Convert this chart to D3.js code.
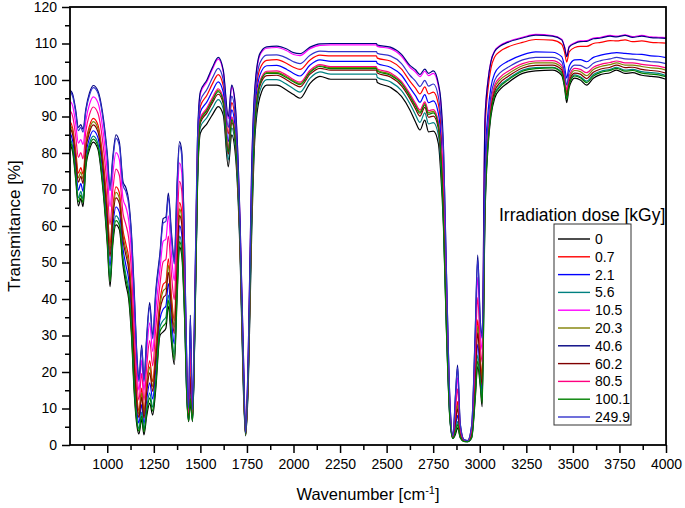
<!DOCTYPE html>
<html>
<head>
<meta charset="utf-8">
<script src="https://cdn.jsdelivr.net/npm/d3@7"></script>
<style>
html,body{margin:0;padding:0;background:#fff;}
svg{display:block;font-family:"Liberation Sans",Arial,sans-serif;}
</style>
</head>
<body>
<svg id="chart" width="685" height="508"></svg>
<script>
// ---------- DATA ----------
const wavenumbers = [800,815,830,845,858,870,885,905,925,950,975,1000,1015,1030,1047,1065,1085,1100,1115,1130,1145,1160,1170,1185,1197,1212,1228,1244,1260,1283,1300,1315,1328,1345,1360,1375,1388,1400,1415,1428,1437,1446,1458,1470,1485,
1500,1535,1565,1596,1623,1650,1668,1686,1713,1731,1743,1757,1775,1793,1820,1856,1910,1964,2000,2035,2089,2142,2200,2445,2450,2520,2580,2625,2655,2679,2705,2725,2751,2778,2790,
2805,2820,2840,2856,2870,2881,2895,2915,2935,2957,2975,2989,3003,3013,
3028,3045,3060,3080,3110,3150,3230,3300,3390,3440,3455,3467,3480,3510,3540,3574,3610,3650,3700,3735,3780,3820,3870,3920,3960,4000];

const dose0 = [82.5,80,73,65.5,67.5,65.3,76,81,83,81,71,55,43.4,55,60.3,59,49,44,40,30,14,5,3,7,2.8,8,11.5,8.2,15,30,31,32,38,28,22,40,54.3,52,35,12,6.4,11.5,6.4,30,72,
85.5,88,90.5,92.7,90.4,76.2,85,80.6,52.6,15,2.5,16,57,84.5,95.4,98.6,98.6,97.2,96,95,99.1,101,100.2,100.2,99.3,98,95.5,91.8,88.5,86.3,89,85.8,86,82.6,75,
60,33,6.8,1.8,3,4.7,2,1,0.9,2,12,21.5,16,10.5,
62,82,90,95,97.5,99.2,101.8,102.5,102.7,101.3,98,93.8,98,100.5,100,98.6,100.5,101.5,102,102.7,101.8,102,101.3,101,100.8,100.2];

const dose0_7 = [88.7,86.7,81.0,74.5,76.0,74.2,82.7,87.5,89.5,87.7,79.4,65.5,54.9,65.1,70.7,69.1,58.7,55.1,51.3,41.8,25.8,13.0,9.3,15.6,9.2,17.2,23.1,17.4,26.3,39.5,44.0,44.8,51.0,40.6,34.1,53.4,66.4,63.9,43.4,15.4,8.0,21.6,7.8,34.2,77.5,
92.8,95.8,99.0,101.5,98.4,85.2,93.8,89.3,58.5,21.5,3.2,21.9,68.9,93.4,103.1,105.4,105.6,104.5,103.5,102.9,105.5,106.8,106.6,106.6,106.0,105.2,103.0,99.7,97.8,96.2,98.1,96.2,96.7,93.3,88.0,
69.2,40.1,9.0,2.1,7.6,11.9,3.7,1.2,1.0,3.5,19.6,34.3,23.6,18.7,
85.8,97.8,103.2,106.3,107.9,109.0,110.3,111.1,110.9,109.8,107.7,104.9,107.7,108.9,109.2,109.2,110.0,110.3,110.8,110.7,111.0,110.5,110.7,110.3,110.2,110.1];

const dose2_1 = [85.5,83.2,76.8,69.8,71.6,69.5,79.2,84.1,86.1,84.2,75.0,60.0,48.9,59.8,65.2,63.8,53.6,49.3,45.4,35.6,19.6,8.8,6.0,11.1,5.8,12.4,17.0,12.6,20.4,34.5,37.2,38.1,44.2,34.0,27.7,46.4,60.1,57.7,39.0,13.6,7.1,16.3,7.1,32.0,74.6,
91.2,94.0,97.0,99.5,96.6,83.1,91.8,87.3,57.1,20.0,3.0,20.5,66.2,91.4,101.4,103.9,104.0,102.9,101.8,101.1,104.1,105.5,105.1,105.1,104.5,103.5,101.3,97.9,95.7,93.9,96.0,93.8,94.3,90.8,85.0,
64.4,36.4,7.8,1.9,5.2,8.1,2.8,1.1,1.0,2.7,15.6,27.6,19.6,14.4,
76.3,91.5,98.0,101.8,103.8,105.1,106.9,107.7,107.6,106.4,103.8,100.5,103.8,105.5,105.6,105.0,106.2,106.8,107.3,107.5,107.3,107.1,107.0,106.6,106.5,106.1];

const dose5_6 = [84.0,81.6,74.9,67.7,69.5,67.4,77.6,82.6,84.6,82.6,73.0,57.5,46.1,57.4,62.8,61.4,51.3,46.7,42.7,32.8,16.8,6.9,4.5,9.0,4.3,10.2,14.3,10.4,17.7,32.3,34.1,35.1,41.1,31.0,24.9,43.2,57.2,54.8,37.0,12.8,6.8,13.9,6.7,31.0,73.3,
87.1,89.7,92.3,94.6,92.1,78.1,86.9,82.5,53.9,16.4,2.6,17.3,59.6,86.4,97.1,100.1,100.1,98.8,97.6,96.7,100.5,102.2,101.6,101.6,100.7,99.5,97.1,93.5,90.5,88.4,91.0,88.0,88.3,84.9,77.8,
62.2,34.7,7.3,1.9,4.1,6.4,2.4,1.1,0.9,2.4,13.8,24.6,17.8,12.5,
64.4,83.6,91.4,96.2,98.6,100.2,102.7,103.4,103.5,102.2,99.0,94.9,99.0,101.4,100.9,99.7,101.5,102.4,102.9,103.5,102.7,102.9,102.3,102.0,101.8,101.2];

const dose10_5 = [94.3,92.8,88.2,82.7,83.7,82.3,88.8,93.4,95.4,93.8,87.0,75.0,65.3,74.2,80.1,78.2,67.4,65.2,61.6,52.4,36.4,20.2,15.0,23.3,15.0,25.6,33.5,25.6,36.6,48.1,55.8,56.4,62.8,52.0,45.0,65.6,77.3,74.7,51.0,18.4,9.4,30.8,9.1,38.0,82.4,
96.3,99.5,103.0,105.7,102.2,89.4,98.1,93.5,61.2,24.6,3.5,24.6,74.6,97.7,106.8,108.7,108.9,108.0,107.0,106.7,108.6,109.5,109.6,109.6,109.2,108.6,106.5,103.5,102.2,100.9,102.4,101.2,101.8,98.3,94.2,
77.6,46.6,11.0,2.4,11.8,18.5,5.2,1.4,1.1,4.8,26.4,45.9,30.4,26.1,
89.2,100.2,105.2,108.0,109.5,110.5,111.7,112.5,112.2,111.2,109.2,106.6,109.2,110.2,110.7,110.8,111.5,111.7,112.2,112.0,112.4,111.9,112.2,111.8,111.7,111.6];

const dose20_3 = [87.8,85.8,79.8,73.2,74.8,72.9,81.8,86.6,88.6,86.8,78.2,64.0,53.3,63.6,69.2,67.6,57.3,53.5,49.7,40.1,24.1,11.8,8.4,14.3,8.3,15.9,21.4,16.0,24.7,38.1,42.2,43.0,49.2,38.8,32.3,51.5,64.7,62.2,42.2,14.9,7.7,20.2,7.6,33.6,76.7,
89.2,92.0,94.8,97.2,94.5,80.8,89.5,85.0,55.6,18.3,2.8,19.0,63.0,89.0,99.3,102.1,102.1,100.9,99.8,99.0,102.4,103.9,103.4,103.4,102.7,101.6,99.3,95.8,93.2,91.3,93.6,91.1,91.4,88.0,81.6,
67.9,39.1,8.7,2.1,7.0,10.9,3.4,1.2,1.0,3.3,18.5,32.5,22.5,17.5,
67.9,86.0,93.3,97.8,100.1,101.6,103.9,104.7,104.7,103.4,100.4,96.6,100.4,102.6,102.3,101.2,102.9,103.7,104.2,104.7,104.1,104.1,103.7,103.3,103.2,102.7];

const dose40_6 = [97.3,96,92,87,87.8,86.5,92,96.5,98.5,97,91,80,70.8,79,85,83,72,70.5,67,58,42,24,18,27.4,18,30,39,30,42,52.6,62,62.5,69,58,50.7,72,83.1,80.4,55,20,10.1,35.6,9.8,40,85,
96.8,100,103.5,106.2,102.7,90,98.6,94,61.6,25,3.5,25,75.3,98.2,107.3,109.1,109.3,108.5,107.5,107.2,109,109.9,110,110,109.6,109,107,104,102.8,101.5,103,101.8,102.5,99,95,
82,50,12,2.5,14,21.9,6,1.5,1.2,5.5,30,52,34,30,
89,100,105,107.8,109.3,110.3,111.5,112.3,112,111,109,106.4,109,110,110.5,110.6,111.3,111.5,112,111.8,112.2,111.7,112,111.6,111.5,111.4];

const dose60_2 = [86.9,84.8,78.7,72.0,73.6,71.7,80.8,85.7,87.7,85.8,77.0,62.5,51.6,62.2,67.7,66.2,55.9,52.0,48.1,38.4,22.4,10.7,7.5,13.1,7.4,14.6,19.8,14.7,23.1,36.8,40.3,41.2,47.3,37.0,30.6,49.6,62.9,60.5,41.0,14.4,7.5,18.7,7.4,33.0,75.9,
88.3,91.0,93.8,96.1,93.5,79.7,88.4,84.0,54.9,17.5,2.8,18.3,61.6,87.9,98.4,101.2,101.3,100.0,98.9,98.1,101.6,103.2,102.7,102.7,101.9,100.8,98.4,94.9,92.1,90.1,92.5,89.8,90.1,86.7,80.0,
66.6,38.1,8.4,2.0,6.3,9.9,3.2,1.2,1.0,3.1,17.4,30.7,21.4,16.4,
66.1,84.7,92.3,96.9,99.3,100.9,103.3,104.0,104.1,102.8,99.7,95.7,99.7,101.9,101.6,100.4,102.1,103.0,103.5,104.1,103.4,103.5,102.9,102.6,102.4,101.9];

const dose80_5 = [91.7,89.9,84.8,78.8,80.1,78.4,85.9,90.6,92.6,90.9,83.4,70.5,60.4,69.9,75.6,73.9,63.3,60.4,56.7,47.4,31.4,16.8,12.3,19.6,12.2,21.6,28.6,21.7,31.7,44.0,50.2,50.9,57.2,46.6,39.8,59.8,72.2,69.6,47.4,17.0,8.7,26.4,8.5,36.2,80.1,
89.6,92.3,95.2,97.6,94.8,81.2,89.9,85.4,55.8,18.6,2.9,19.2,63.6,89.4,99.7,102.4,102.5,101.3,100.1,99.4,102.7,104.2,103.7,103.7,103.0,102.0,99.6,96.2,93.6,91.8,94.0,91.6,91.9,88.5,82.2,
73.6,43.5,10.0,2.2,9.8,15.4,4.5,1.3,1.1,4.2,23.2,40.4,27.2,22.6,
69.6,87.0,94.2,98.6,100.8,102.3,104.5,105.2,105.3,104.0,101.1,97.3,101.1,103.2,102.9,102.0,103.5,104.3,104.8,105.2,104.7,104.7,104.3,104.0,103.8,103.3];

const dose100_1 = [83.2,80.8,74.0,66.6,68.5,66.4,76.8,81.8,83.8,81.8,72.0,56.3,44.8,56.2,61.5,60.2,50.2,45.3,41.4,31.4,15.4,6.0,3.8,8.0,3.6,9.1,12.9,9.3,16.4,31.1,32.6,33.5,39.6,29.5,23.4,41.6,55.7,53.4,36.0,12.4,6.6,12.7,6.6,30.5,72.7,
88.9,91.6,94.4,96.8,94.1,80.3,89.1,84.6,55.3,18.0,2.8,18.7,62.5,88.6,99.0,101.8,101.8,100.6,99.5,98.7,102.1,103.7,103.1,103.1,102.4,101.3,99.0,95.5,92.8,90.9,93.2,90.6,91.0,87.5,81.0,
61.1,33.9,7.1,1.8,3.6,5.6,2.2,1.0,0.9,2.2,12.9,23.0,16.9,11.5,
63.6,83.1,90.9,95.8,98.2,99.9,102.4,103.1,103.3,101.9,98.7,94.6,98.7,101.1,100.6,99.3,101.1,102.1,102.6,103.2,102.4,102.6,101.9,101.6,101.4,100.9];

const dose249_9 = [96.7,95.4,91.2,86.1,87.0,85.7,91.4,95.9,97.9,96.4,90.2,79.0,69.7,78.0,84.0,82.0,71.1,69.4,65.9,56.9,40.9,23.2,17.4,26.6,17.4,29.1,37.9,29.1,40.9,51.7,60.8,61.3,67.8,56.8,49.6,70.7,82.0,79.3,54.2,19.7,10.0,34.6,9.7,39.6,84.5,
94.3,97.4,100.6,103.2,100.0,87.0,95.6,91.1,59.6,22.8,3.3,23.0,71.3,95.2,104.7,106.8,106.9,106.0,105.0,104.5,106.8,107.9,107.8,107.8,107.3,106.6,104.5,101.3,99.7,98.2,99.9,98.3,98.9,95.4,90.6,
81.1,49.3,11.8,2.5,13.6,21.2,5.8,1.5,1.2,5.4,29.3,50.8,33.3,29.2,
72.3,88.8,95.7,99.9,102.0,103.4,105.5,106.2,106.2,105.0,102.2,98.6,102.2,104.1,104.0,103.2,104.6,105.3,105.8,106.2,105.8,105.7,105.4,105.0,104.9,104.5];

const doseLabels = ["0","0.7","2.1","5.6","10.5","20.3","40.6","60.2","80.5","100.1","249.9"];
const doseColors = ["#000000","#ff0000","#0000ff","#008080","#ff00ff","#808000","#000080","#800000","#ff0080","#008000","#3333cc"];
const doseValues = [dose0,dose0_7,dose2_1,dose5_6,dose10_5,dose20_3,dose40_6,dose60_2,dose80_5,dose100_1,dose249_9];

const xMajorTicks = [1000,1250,1500,1750,2000,2250,2500,2750,3000,3250,3500,3750,4000];
const xMinorTicks = [875,1125,1375,1625,1875,2125,2375,2625,2875,3125,3375,3625,3875];
const yMajorTicks = [0,10,20,30,40,50,60,70,80,90,100,110,120];
const yMinorTicks = [5,15,25,35,45,55,65,75,85,95,105,115];

// ---------- LAYOUT ----------
const L = 70, R = 666, T = 7, B = 445;
const svg = d3.select("#chart");
const x = d3.scaleLinear().domain([800, 4000]).range([L, R]);
const y = d3.scaleLinear().domain([0, 120]).range([B, T]);

svg.append("defs").append("clipPath").attr("id","plotclip")
  .append("rect").attr("x",L).attr("y",T).attr("width",R-L).attr("height",B-T);

// ---------- LINES ----------
const line = d3.line()
  .defined(d => d[1] != null && !isNaN(d[1]))
  .x(d => x(d[0])).y(d => y(d[1]))
  .curve(d3.curveMonotoneX);

const gLines = svg.append("g").attr("clip-path","url(#plotclip)");
doseValues.forEach((vals, i) => {
  const pts = wavenumbers.map((w, j) => [w, vals[j]]);
  gLines.append("path")
    .attr("d", line(pts))
    .attr("fill","none")
    .attr("stroke", doseColors[i])
    .attr("stroke-width", 1.2)
    .attr("stroke-linejoin","round");
});

// ---------- AXES ----------
const axisStyle = g => {
  g.select(".domain").remove();
  g.selectAll("line").attr("stroke","#000").attr("stroke-width",1.5);
  g.selectAll("text").attr("fill","#000").style("font-size","14px")
    .style("font-family","'Liberation Sans',Arial,sans-serif");
};

svg.append("g").attr("transform",`translate(0,${B})`)
  .call(d3.axisBottom(x).tickValues(xMinorTicks).tickSize(5).tickFormat(""))
  .call(axisStyle);
svg.append("g").attr("transform",`translate(0,${B})`)
  .call(d3.axisBottom(x).tickValues(xMajorTicks).tickSize(8).tickPadding(6).tickFormat(d3.format("d")))
  .call(axisStyle);

svg.append("g").attr("transform",`translate(${L},0)`)
  .call(d3.axisLeft(y).tickValues(yMinorTicks).tickSize(5).tickFormat(""))
  .call(axisStyle);
svg.append("g").attr("transform",`translate(${L},0)`)
  .call(d3.axisLeft(y).tickValues(yMajorTicks).tickSize(8).tickPadding(5).tickFormat(d3.format("d")))
  .call(axisStyle);

// frame
svg.append("rect").attr("x",L).attr("y",T).attr("width",R-L).attr("height",B-T)
  .attr("fill","none").attr("stroke","#000").attr("stroke-width",1.8);

// ---------- TITLES ----------
const xt = svg.append("text").attr("x",(L+R)/2).attr("y",500)
  .attr("text-anchor","middle").style("font-size","16.5px").attr("fill","#000");
xt.append("tspan").text("Wavenumber [cm");
xt.append("tspan").attr("dy",-6).style("font-size","11px").text("-1");
xt.append("tspan").attr("dy",6).text("]");

svg.append("text").attr("transform",`translate(20,${(T+B)/2}) rotate(-90)`)
  .attr("text-anchor","middle").style("font-size","17px").attr("fill","#000")
  .text("Transmitance [%]");

// ---------- LEGEND ----------
svg.append("text").attr("x",499).attr("y",221).style("font-size","17.5px").attr("fill","#000")
  .text("Irradiation dose [kGy]");
svg.append("rect").attr("x",554).attr("y",224).attr("width",77).attr("height",201)
  .attr("fill","#fff").attr("stroke","#333").attr("stroke-width",1);
const lg = svg.append("g");
doseLabels.forEach((lab, i) => {
  const yy = 239 + i * 17.8;
  lg.append("line").attr("x1",558).attr("x2",590).attr("y1",yy).attr("y2",yy)
    .attr("stroke",doseColors[i]).attr("stroke-width",1.4);
  lg.append("text").attr("x",595).attr("y",yy+5).style("font-size","14px").attr("fill","#000").text(lab);
});
</script>
</body>
</html>
